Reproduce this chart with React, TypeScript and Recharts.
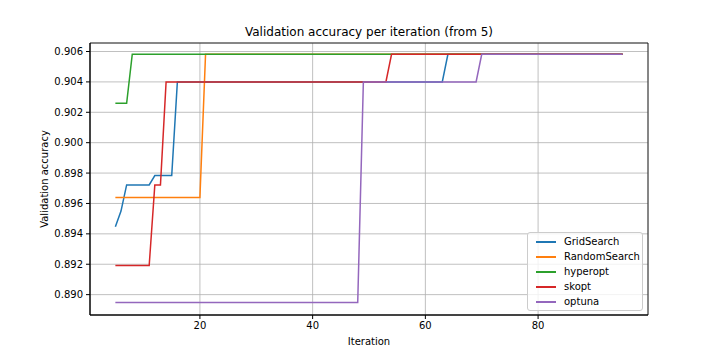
import React from "react";
import { LineChart, Line, XAxis, YAxis, CartesianGrid, ReferenceArea } from "recharts";

// best-so-far validation accuracy, iterations 5..95
const iterations = [
  5, 6, 7, 8, 9, 10, 11, 12, 13, 14,
  15, 16, 17, 18, 19, 20, 21, 22, 23, 24,
  25, 26, 27, 28, 29, 30, 31, 32, 33, 34,
  35, 36, 37, 38, 39, 40, 41, 42, 43, 44,
  45, 46, 47, 48, 49, 50, 51, 52, 53, 54,
  55, 56, 57, 58, 59, 60, 61, 62, 63, 64,
  65, 66, 67, 68, 69, 70, 71, 72, 73, 74,
  75, 76, 77, 78, 79, 80, 81, 82, 83, 84,
  85, 86, 87, 88, 89, 90, 91, 92, 93, 94,
  95,
];

const gridSearch = [
  0.89447, 0.8955, 0.89722, 0.89722, 0.89722, 0.89722, 0.89722, 0.89784, 0.89784, 0.89784,
  0.89784, 0.904, 0.904, 0.904, 0.904, 0.904, 0.904, 0.904, 0.904, 0.904,
  0.904, 0.904, 0.904, 0.904, 0.904, 0.904, 0.904, 0.904, 0.904, 0.904,
  0.904, 0.904, 0.904, 0.904, 0.904, 0.904, 0.904, 0.904, 0.904, 0.904,
  0.904, 0.904, 0.904, 0.904, 0.904, 0.904, 0.904, 0.904, 0.904, 0.904,
  0.904, 0.904, 0.904, 0.904, 0.904, 0.904, 0.904, 0.904, 0.904, 0.90582,
  0.90582, 0.90582, 0.90582, 0.90582, 0.90582, 0.90582, 0.90582, 0.90582, 0.90582, 0.90582,
  0.90582, 0.90582, 0.90582, 0.90582, 0.90582, 0.90582, 0.90582, 0.90582, 0.90582, 0.90582,
  0.90582, 0.90582, 0.90582, 0.90582, 0.90582, 0.90582, 0.90582, 0.90582, 0.90582, 0.90582,
  0.90582,
];

const randomSearch = [
  0.89639, 0.89639, 0.89639, 0.89639, 0.89639, 0.89639, 0.89639, 0.89639, 0.89639, 0.89639,
  0.89639, 0.89639, 0.89639, 0.89639, 0.89639, 0.89639, 0.90582, 0.90582, 0.90582, 0.90582,
  0.90582, 0.90582, 0.90582, 0.90582, 0.90582, 0.90582, 0.90582, 0.90582, 0.90582, 0.90582,
  0.90582, 0.90582, 0.90582, 0.90582, 0.90582, 0.90582, 0.90582, 0.90582, 0.90582, 0.90582,
  0.90582, 0.90582, 0.90582, 0.90582, 0.90582, 0.90582, 0.90582, 0.90582, 0.90582, 0.90582,
  0.90582, 0.90582, 0.90582, 0.90582, 0.90582, 0.90582, 0.90582, 0.90582, 0.90582, 0.90582,
  0.90582, 0.90582, 0.90582, 0.90582, 0.90582, 0.90582, 0.90582, 0.90582, 0.90582, 0.90582,
  0.90582, 0.90582, 0.90582, 0.90582, 0.90582, 0.90582, 0.90582, 0.90582, 0.90582, 0.90582,
  0.90582, 0.90582, 0.90582, 0.90582, 0.90582, 0.90582, 0.90582, 0.90582, 0.90582, 0.90582,
  0.90582,
];

const hyperopt = [
  0.90259, 0.90259, 0.90259, 0.90582, 0.90582, 0.90582, 0.90582, 0.90582, 0.90582, 0.90582,
  0.90582, 0.90582, 0.90582, 0.90582, 0.90582, 0.90582, 0.90582, 0.90582, 0.90582, 0.90582,
  0.90582, 0.90582, 0.90582, 0.90582, 0.90582, 0.90582, 0.90582, 0.90582, 0.90582, 0.90582,
  0.90582, 0.90582, 0.90582, 0.90582, 0.90582, 0.90582, 0.90582, 0.90582, 0.90582, 0.90582,
  0.90582, 0.90582, 0.90582, 0.90582, 0.90582, 0.90582, 0.90582, 0.90582, 0.90582, 0.90582,
  0.90582, 0.90582, 0.90582, 0.90582, 0.90582, 0.90582, 0.90582, 0.90582, 0.90582, 0.90582,
  0.90582, 0.90582, 0.90582, 0.90582, 0.90582, 0.90582, 0.90582, 0.90582, 0.90582, 0.90582,
  0.90582, 0.90582, 0.90582, 0.90582, 0.90582, 0.90582, 0.90582, 0.90582, 0.90582, 0.90582,
  0.90582, 0.90582, 0.90582, 0.90582, 0.90582, 0.90582, 0.90582, 0.90582, 0.90582, 0.90582,
  0.90582,
];

const skopt = [
  0.89191, 0.89191, 0.89191, 0.89191, 0.89191, 0.89191, 0.89191, 0.89722, 0.89722, 0.904,
  0.904, 0.904, 0.904, 0.904, 0.904, 0.904, 0.904, 0.904, 0.904, 0.904,
  0.904, 0.904, 0.904, 0.904, 0.904, 0.904, 0.904, 0.904, 0.904, 0.904,
  0.904, 0.904, 0.904, 0.904, 0.904, 0.904, 0.904, 0.904, 0.904, 0.904,
  0.904, 0.904, 0.904, 0.904, 0.904, 0.904, 0.904, 0.904, 0.904, 0.90582,
  0.90582, 0.90582, 0.90582, 0.90582, 0.90582, 0.90582, 0.90582, 0.90582, 0.90582, 0.90582,
  0.90582, 0.90582, 0.90582, 0.90582, 0.90582, 0.90582, 0.90582, 0.90582, 0.90582, 0.90582,
  0.90582, 0.90582, 0.90582, 0.90582, 0.90582, 0.90582, 0.90582, 0.90582, 0.90582, 0.90582,
  0.90582, 0.90582, 0.90582, 0.90582, 0.90582, 0.90582, 0.90582, 0.90582, 0.90582, 0.90582,
  0.90582,
];

const optuna = [
  0.88949, 0.88949, 0.88949, 0.88949, 0.88949, 0.88949, 0.88949, 0.88949, 0.88949, 0.88949,
  0.88949, 0.88949, 0.88949, 0.88949, 0.88949, 0.88949, 0.88949, 0.88949, 0.88949, 0.88949,
  0.88949, 0.88949, 0.88949, 0.88949, 0.88949, 0.88949, 0.88949, 0.88949, 0.88949, 0.88949,
  0.88949, 0.88949, 0.88949, 0.88949, 0.88949, 0.88949, 0.88949, 0.88949, 0.88949, 0.88949,
  0.88949, 0.88949, 0.88949, 0.88949, 0.904, 0.904, 0.904, 0.904, 0.904, 0.904,
  0.904, 0.904, 0.904, 0.904, 0.904, 0.904, 0.904, 0.904, 0.904, 0.904,
  0.904, 0.904, 0.904, 0.904, 0.904, 0.90582, 0.90582, 0.90582, 0.90582, 0.90582,
  0.90582, 0.90582, 0.90582, 0.90582, 0.90582, 0.90582, 0.90582, 0.90582, 0.90582, 0.90582,
  0.90582, 0.90582, 0.90582, 0.90582, 0.90582, 0.90582, 0.90582, 0.90582, 0.90582, 0.90582,
  0.90582,
];

const xTicks = [20, 40, 60, 80];
const yTicks = [0.89, 0.892, 0.894, 0.896, 0.898, 0.9, 0.902, 0.904, 0.906];
const xDomain = [0.5, 99.5];
const yDomain = [0.88866, 0.90656];

const series = [
  { key: "GridSearch", color: "#1f77b4", values: gridSearch },
  { key: "RandomSearch", color: "#ff7f0e", values: randomSearch },
  { key: "hyperopt", color: "#2ca02c", values: hyperopt },
  { key: "skopt", color: "#d62728", values: skopt },
  { key: "optuna", color: "#9467bd", values: optuna },
];

const data = iterations.map((iteration, i) => {
  const row: Record<string, number> = { iteration };
  series.forEach((s) => {
    row[s.key] = s.values[i];
  });
  return row;
});

const FONT = "'DejaVu Sans', sans-serif";
const tickStyle = { fill: "#000", fontSize: 10, fontFamily: FONT };

export default function App() {
  return (
    <div
      style={{
        position: "absolute",
        left: 0,
        top: 0,
        width: 720,
        height: 360,
        background: "#fff",
        fontFamily: FONT,
      }}
    >
      <div
        style={{
          position: "absolute",
          top: 25,
          left: 90,
          width: 558,
          textAlign: "center",
          fontSize: 12,
          lineHeight: "14px",
          color: "#000",
        }}
      >
        Validation accuracy per iteration (from 5)
      </div>

      <LineChart width={720} height={360} data={data} margin={{ top: 43, right: 72, bottom: 15, left: 30 }}>
        <CartesianGrid stroke="#b0b0b0" strokeWidth={0.8} />
        <XAxis
          dataKey="iteration"
          type="number"
          domain={xDomain}
          ticks={xTicks}
          height={30}
          stroke="#000"
          tick={tickStyle}
          tickSize={4}
          tickMargin={3}
          label={{ value: "Iteration", position: "insideBottom", offset: 0, fill: "#000", fontSize: 10, fontFamily: FONT }}
        />
        <YAxis
          type="number"
          domain={yDomain}
          ticks={yTicks}
          interval={0}
          tickFormatter={(v: number) => v.toFixed(3)}
          width={60}
          stroke="#000"
          tick={tickStyle}
          tickSize={4}
          tickMargin={3}
          label={{
            value: "Validation accuracy",
            angle: -90,
            position: "insideLeft",
            offset: 14,
            fill: "#000",
            fontSize: 10,
            fontFamily: FONT,
            style: { textAnchor: "middle" },
          }}
        />
        {series.map((s) => (
          <Line
            key={s.key}
            type="linear"
            dataKey={s.key}
            stroke={s.color}
            strokeWidth={1.5}
            dot={false}
            activeDot={false}
            isAnimationActive={false}
          />
        ))}
        {/* axes frame (matplotlib spines) */}
        <ReferenceArea
          x1={xDomain[0]}
          x2={xDomain[1]}
          y1={yDomain[0]}
          y2={yDomain[1]}
          fill="none"
          fillOpacity={0}
          stroke="#000"
          strokeWidth={0.8}
          ifOverflow="visible"
        />
      </LineChart>

      <div
        style={{
          position: "absolute",
          left: 527,
          top: 232,
          width: 114,
          height: 76,
          border: "1px solid #cccccc",
          borderRadius: 3,
          background: "rgba(255,255,255,0.8)",
          paddingTop: 1,
          fontSize: 10,
          color: "#000",
        }}
      >
        {series.map((s) => (
          <div key={s.key} style={{ display: "flex", alignItems: "center", height: 15 }}>
            <div style={{ width: 20, height: 2, background: s.color, marginLeft: 8, marginRight: 8 }} />
            <span>{s.key}</span>
          </div>
        ))}
      </div>
    </div>
  );
}
